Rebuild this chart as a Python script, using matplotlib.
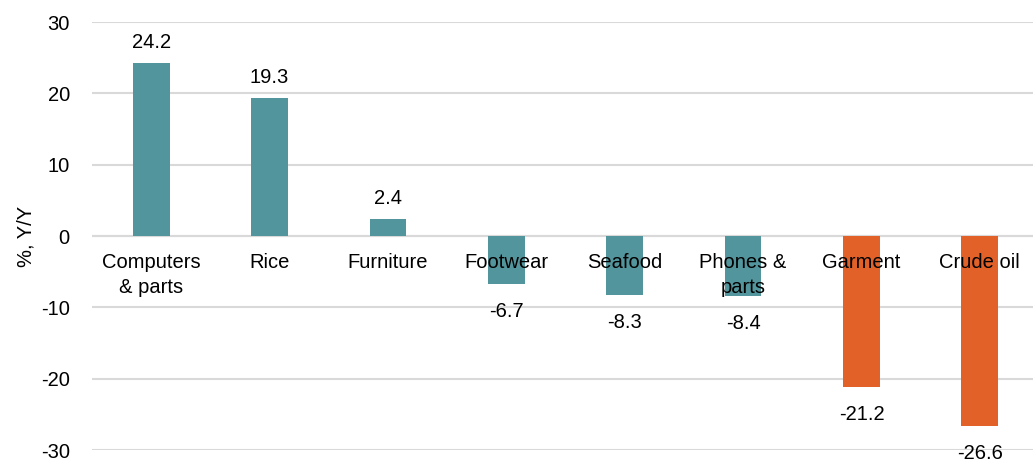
import matplotlib
matplotlib.use("Agg")
import matplotlib.pyplot as plt

categories = ["Computers\n& parts", "Rice", "Furniture", "Footwear", "Seafood",
              "Phones &\nparts", "Garment", "Crude oil"]
values = [24.2, 19.3, 2.4, -6.7, -8.3, -8.4, -21.2, -26.6]
bar_colors = ["#53959C"] * 6 + ["#E26128"] * 2
y_ticks = [-30, -20, -10, 0, 10, 20, 30]

plt.rcParams["font.family"] = ["Liberation Sans", "DejaVu Sans"]
FS = 14.5

W, H = 1033, 462
fig = plt.figure(figsize=(W / 100, H / 100), dpi=100)
left, right = 92, 1039
top_px, bot_px = 22, 450
ax = fig.add_axes([left / W, 1 - bot_px / H, (right - left) / W, (bot_px - top_px) / H])

x = list(range(len(categories)))
ax.bar(x, values, width=0.31, color=bar_colors, zorder=3)

ax.set_xlim(-0.5, len(categories) - 0.5)
ax.set_ylim(-30, 30)
ax.set_yticks(y_ticks)
ax.set_yticklabels([str(t) for t in y_ticks], fontsize=FS)
ax.tick_params(axis="y", length=0, pad=16)
ax.set_xticks([])
ax.grid(axis="y", color="#D9D9D9", linewidth=1.5, zorder=0)
for s in ax.spines.values():
    s.set_visible(False)
ax.axhline(0, color="#D9D9D9", linewidth=1.5, zorder=1)

ax.set_ylabel("%, Y/Y", fontsize=FS, labelpad=4)

for xi, label in zip(x, categories):
    ax.annotate(label, (xi, 0), xytext=(0, -12), textcoords="offset points",
                ha="center", va="top", fontsize=FS, linespacing=1.45, zorder=4)

for xi, v in zip(x, values):
    if v >= 0:
        ax.annotate(f"{v:.1f}", (xi, v), xytext=(0, 8), textcoords="offset points",
                    ha="center", va="bottom", fontsize=FS)
    else:
        ax.annotate(f"{v:.1f}", (xi, v), xytext=(0, -13), textcoords="offset points",
                    ha="center", va="top", fontsize=FS, annotation_clip=False)

fig.savefig("out.png", dpi=100)
